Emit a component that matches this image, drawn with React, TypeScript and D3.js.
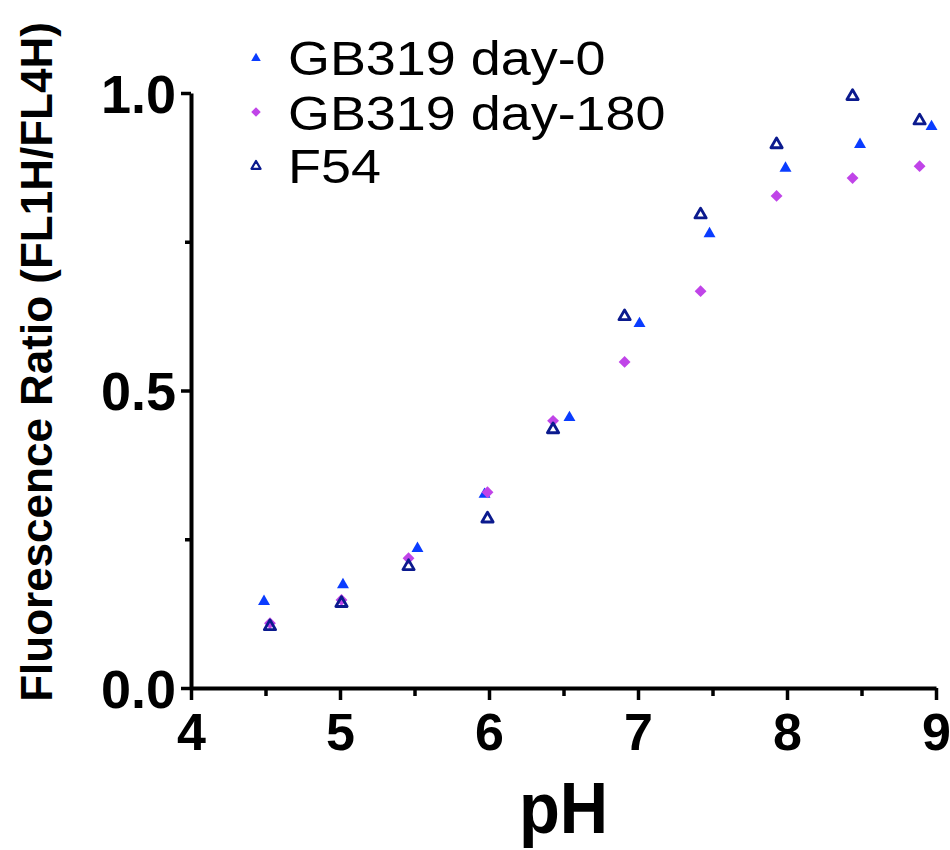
import { useEffect, useRef } from "react";
import * as d3 from "d3";

// pH values and fluorescence ratios
const phDay0 = [4.49, 5.02, 5.52, 5.97, 6.54, 7.01, 7.48, 7.99, 8.49, 8.97];
const ratioDay0 = [0.148, 0.176, 0.237, 0.328, 0.457, 0.615, 0.766, 0.876, 0.916, 0.946];
const phDay180 = [4.53, 5.01, 5.46, 5.99, 6.43, 6.91, 7.42, 7.93, 8.44, 8.89];
const ratioDay180 = [0.109, 0.148, 0.218, 0.329, 0.449, 0.548, 0.667, 0.827, 0.857, 0.877];
const phF54 = [4.53, 5.01, 5.46, 5.99, 6.43, 6.91, 7.42, 7.93, 8.44, 8.89];
const ratioF54 = [0.106, 0.145, 0.207, 0.287, 0.437, 0.627, 0.798, 0.916, 0.997, 0.956];

const seriesNames = ["GB319 day-0", "GB319 day-180", "F54"];
const xMajor = [4, 5, 6, 7, 8, 9];
const xMinor = [4.5, 5.5, 6.5, 7.5, 8.5];
const yMajor = [0, 0.5, 1.0];
const yMinor = [0.25, 0.75];

const FONT = "'Liberation Sans', Arial, sans-serif";

export default function App() {
  const ref = useRef<SVGSVGElement>(null);

  useEffect(() => {
    const svg = d3.select(ref.current);
    svg.selectAll("*").remove();

    const x = d3.scaleLinear().domain([4, 9]).range([191, 936]);
    const y = d3.scaleLinear().domain([0, 1]).range([688, 93]);

    const series = [
      { name: seriesNames[0], xs: phDay0, ys: ratioDay0, kind: "tri" },
      { name: seriesNames[1], xs: phDay180, ys: ratioDay180, kind: "dia" },
      { name: seriesNames[2], xs: phF54, ys: ratioF54, kind: "open" },
    ];

    const drawMarker = (g: any, kind: string, k: number) => {
      if (kind === "tri") {
        g.append("path")
          .attr("d", d3.symbol(d3.symbolTriangle, 62 * k * k)())
          .attr("transform", `translate(0,${1.5 * k})`)
          .attr("fill", "#0a3cff");
      } else if (kind === "dia") {
        g.append("path")
          .attr("d", d3.symbol(d3.symbolSquare, 70 * k * k)())
          .attr("transform", "rotate(45)")
          .attr("fill", "#c044e8");
      } else {
        g.append("path")
          .attr("d", d3.symbol(d3.symbolTriangle, 55 * k * k)())
          .attr("transform", `translate(0,${1.5 * k})`)
          .attr("fill", "none")
          .attr("stroke", "#0b1a8e")
          .attr("stroke-width", 2.8 * k)
          .attr("stroke-linejoin", "round");
      }
    };

    // axes
    const xAxis = svg.append("g").attr("transform", `translate(0,${y(0)})`);
    xAxis.call(d3.axisBottom(x).tickValues(xMajor).tickSize(12).tickSizeOuter(0).tickPadding(13).tickFormat(d3.format("d")));
    const xMin = svg.append("g").attr("transform", `translate(0,${y(0)})`);
    xMin.call(d3.axisBottom(x).tickValues(xMinor).tickSize(8).tickSizeOuter(0).tickFormat(() => ""));
    xMin.select(".domain").remove();

    const yAxis = svg.append("g").attr("transform", `translate(${x(4)},0)`);
    yAxis.call(d3.axisLeft(y).tickValues(yMajor).tickSize(10).tickSizeOuter(0).tickPadding(5).tickFormat(d3.format(".1f")));
    const yMin = svg.append("g").attr("transform", `translate(${x(4)},0)`);
    yMin.call(d3.axisLeft(y).tickValues(yMinor).tickSize(6).tickSizeOuter(0).tickFormat(() => ""));
    yMin.select(".domain").remove();

    svg.selectAll(".domain").attr("stroke", "#000").attr("stroke-width", 4);
    svg.selectAll(".tick line").attr("stroke", "#000").attr("stroke-width", 3.5);
    svg.selectAll(".tick text")
      .attr("fill", "#000")
      .attr("font-family", FONT)
      .attr("font-weight", "bold")
      .attr("font-size", 54);
    yAxis.selectAll(".tick text").attr("dy", "0.36em");
    xAxis.selectAll(".tick text").attr("font-size", 52);

    // axis titles
    svg.append("text")
      .attr("transform", `translate(${(x(4) + x(9)) / 2},833) scale(0.93,1)`)
      .attr("text-anchor", "middle")
      .attr("font-family", FONT)
      .attr("font-weight", "bold")
      .attr("font-size", 72)
      .text("pH");

    svg.append("text")
      .attr("transform", `translate(52,${362}) rotate(-90)`)
      .attr("text-anchor", "middle")
      .attr("font-family", FONT)
      .attr("font-weight", "bold")
      .attr("font-size", 44)
      .text("Fluorescence Ratio (FL1H/FL4H)");

    // points
    series.forEach((s) => {
      s.xs.forEach((px, i) => {
        const g = svg.append("g").attr("transform", `translate(${x(px)},${y(s.ys[i])})`);
        drawMarker(g, s.kind, 1);
      });
    });

    // legend
    const legBase = [75, 130, 183];
    series.forEach((s, i) => {
      const g = svg.append("g").attr("transform", `translate(256,${legBase[i] - 18})`);
      drawMarker(g, s.kind, 0.8);
      svg.append("text")
        .attr("transform", `translate(288,${legBase[i]}) scale(1.1,1)`)
        .attr("font-family", FONT)
        .attr("font-size", 49)
        .attr("fill", "#000")
        .text(s.name);
    });
  }, []);

  return (
    <svg
      ref={ref}
      width={950}
      height={850}
      style={{ position: "absolute", left: 0, top: 0, background: "#fff" }}
    />
  );
}
